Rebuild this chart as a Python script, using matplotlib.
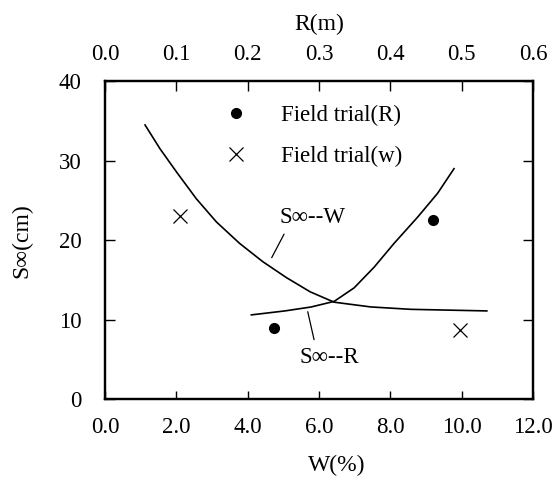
import numpy as np
import matplotlib
matplotlib.use('Agg')
import matplotlib.pyplot as plt

# curva S-W (eje inferior, W en %)
w_curve = [1.12, 1.54, 2.00, 2.56, 3.12, 3.77, 4.42, 5.08, 5.75, 6.42,
           7.45, 8.57, 10.7]
s_w_curve = [34.5, 31.5, 28.6, 25.2, 22.3, 19.6, 17.3, 15.3, 13.5, 12.2,
             11.6, 11.3, 11.1]

# curva S-R (eje superior, R en m)
r_curve = [0.205, 0.252, 0.289, 0.321, 0.349, 0.377, 0.405, 0.438, 0.466, 0.489]
s_r_curve = [10.6, 11.1, 11.6, 12.3, 14.0, 16.6, 19.6, 22.9, 25.9, 29.0]

# ensayos de campo
r_trial = [0.237, 0.459]
s_r_trial = [9.0, 22.6]
w_trial = [2.09, 9.96]
s_w_trial = [23.0, 8.7]

w_ticks = [0.0, 2.0, 4.0, 6.0, 8.0, 10.0, 12.0]
r_ticks = [0.0, 0.1, 0.2, 0.3, 0.4, 0.5, 0.6]
s_ticks = [0, 10, 20, 30, 40]

plt.rcParams['font.family'] = ['Liberation Serif', 'DejaVu Serif']

fig = plt.figure(figsize=(5.56, 4.78), dpi=100)
ax = fig.add_axes([0.189, 0.165, 0.77, 0.665])
ax2 = ax.twiny()

ax.plot(w_curve, s_w_curve, color='black', lw=1.2)
ax2.plot(r_curve, s_r_curve, color='black', lw=1.2)

h_r, = ax2.plot(r_trial, s_r_trial, 'o', color='black', ms=7, ls='none')
h_w, = ax.plot(w_trial, s_w_trial, 'x', color='black', ms=10, mew=0.9, ls='none')

ax.set_xlim(0, 12)
ax.set_ylim(0, 40)
ax2.set_xlim(0, 0.6)

ax.set_xticks(w_ticks)
ax.set_xticklabels(['%.1f' % v for v in w_ticks])
ax.set_yticks(s_ticks)
ax2.set_xticks(r_ticks)
ax2.set_xticklabels(['%.1f' % v for v in r_ticks])

ax.tick_params(axis='x', direction='in', length=6, width=1, labelsize=16.5, pad=13)
ax.tick_params(axis='y', direction='in', length=7, width=1, labelsize=16.5, pad=17,
               right=True)
ax2.tick_params(axis='x', direction='in', length=7, width=1, labelsize=16.5, pad=12)

for a in [ax, ax2]:
    for sp in a.spines.values():
        sp.set_linewidth(1.6)

ax.set_xlabel('W(%)', fontsize=17)
ax.xaxis.set_label_coords(0.542, -0.175)
ax.set_ylabel('S∞(cm)', fontsize=17)
ax.yaxis.set_label_coords(-0.17, 0.5)
ax2.set_xlabel('R(m)', fontsize=17, labelpad=10)

ax.legend([h_r, h_w], ['Field trial(R)', 'Field trial(w)'], loc='upper left',
          bbox_to_anchor=(0.278, 0.925), frameon=False, fontsize=16.5,
          handlelength=1.0, handletextpad=1.5, labelspacing=0.85,
          borderpad=0, borderaxespad=0)

ax.annotate('S∞--W', xy=(4.67, 17.8), xytext=(4.89, 22.9), fontsize=16.5,
            ha='left', va='center',
            arrowprops=dict(arrowstyle='-', color='black', lw=0.9,
                            relpos=(0.12, 0.0), shrinkA=3, shrinkB=0))
ax.annotate('S∞--R', xy=(5.68, 11.0), xytext=(5.45, 5.3), fontsize=16.5,
            ha='left', va='center',
            arrowprops=dict(arrowstyle='-', color='black', lw=0.9,
                            relpos=(0.27, 1.0), shrinkA=3, shrinkB=0))

fig.savefig('out.png', dpi=100)
